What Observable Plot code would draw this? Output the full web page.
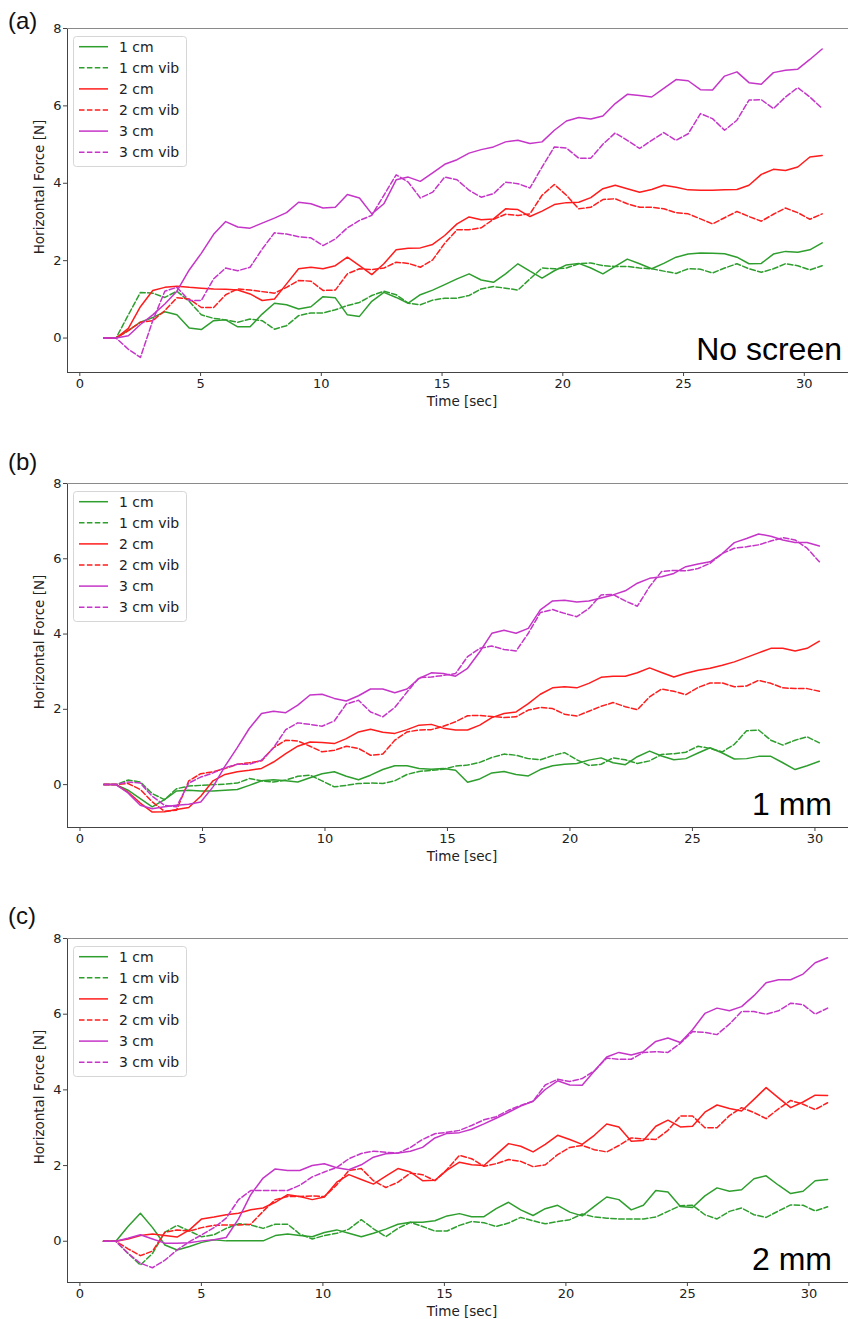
<!DOCTYPE html>
<html>
<head>
<meta charset="utf-8">
<script src="https://cdn.jsdelivr.net/npm/d3@7"></script>
<script src="https://cdn.jsdelivr.net/npm/@observablehq/plot@0.6"></script>
<style>
  html, body { margin: 0; padding: 0; background: #fff; }
  #wrap { position: relative; width: 848px; height: 1319px; overflow: hidden; background: #fff; }
  .panel { position: absolute; left: 0; width: 848px; height: 455px; }
  .panel svg text { font-size: 13px !important; font-family: 'DejaVu Sans', sans-serif !important; fill: #222; }
  #overlay { position: absolute; left: 0; top: 0; pointer-events: none; }
</style>
</head>
<body>
<div id="wrap"></div>
<script>
// ---------------- data ----------------
const timeA = [1.00,1.50,2.01,2.51,3.02,3.52,4.02,4.53,5.03,5.54,6.04,6.54,7.05,7.55,8.06,8.56,9.06,9.57,10.07,10.58,11.08,11.58,12.09,12.59,13.10,13.60,14.10,14.61,15.11,15.62,16.12,16.62,17.13,17.63,18.14,18.64,19.14,19.65,20.15,20.66,21.16,21.66,22.17,22.67,23.18,23.68,24.18,24.69,25.19,25.70,26.20,26.70,27.21,27.71,28.22,28.72,29.22,29.73,30.23,30.74];
const timeB = [0.97,1.47,1.96,2.46,2.95,3.45,3.94,4.44,4.93,5.43,5.92,6.42,6.91,7.41,7.90,8.40,8.89,9.39,9.88,10.38,10.87,11.37,11.86,12.36,12.85,13.35,13.84,14.34,14.83,15.33,15.82,16.32,16.81,17.31,17.80,18.30,18.79,19.29,19.78,20.28,20.77,21.27,21.76,22.26,22.75,23.25,23.74,24.24,24.73,25.23,25.72,26.22,26.71,27.21,27.70,28.20,28.69,29.19,29.68,30.18];
const timeC = [0.97,1.48,1.98,2.49,2.99,3.50,4.00,4.51,5.01,5.52,6.02,6.53,7.03,7.54,8.04,8.55,9.05,9.56,10.06,10.57,11.07,11.58,12.08,12.59,13.09,13.60,14.10,14.61,15.11,15.62,16.12,16.63,17.13,17.64,18.14,18.65,19.15,19.66,20.16,20.67,21.17,21.68,22.18,22.69,23.19,23.70,24.20,24.71,25.21,25.72,26.22,26.73,27.23,27.74,28.24,28.75,29.25,29.76,30.26,30.77];

const seriesNames = ["1 cm", "1 cm vib", "2 cm", "2 cm vib", "3 cm", "3 cm vib"];
const xTicks = [0, 5, 10, 15, 20, 25, 30];
const yTicks = [0, 2, 4, 6, 8];
const panelTags = ["(a)", "(b)", "(c)"];
const panelNotes = ["No screen", "1 mm", "2 mm"];
const xLabel = "Time [sec]";
const yLabel = "Horizontal Force [N]";

// (a) No screen
const a1cm    = [0,0,0.2,0.41,0.53,0.68,0.6,0.26,0.22,0.45,0.47,0.29,0.29,0.62,0.9,0.86,0.75,0.81,1.07,1.04,0.6,0.56,0.95,1.18,1.05,0.9,1.12,1.24,1.38,1.53,1.66,1.5,1.44,1.66,1.92,1.73,1.55,1.74,1.89,1.93,1.81,1.66,1.85,2.04,1.92,1.79,1.93,2.09,2.17,2.2,2.19,2.18,2.09,1.92,1.93,2.17,2.24,2.22,2.28,2.46];
const a1cmVib = [0,0,0.6,1.18,1.16,1.05,1.21,0.95,0.6,0.51,0.47,0.41,0.49,0.45,0.23,0.32,0.58,0.65,0.65,0.73,0.84,0.92,1.1,1.21,1.12,0.9,0.86,0.98,1.03,1.03,1.1,1.27,1.33,1.29,1.24,1.53,1.81,1.79,1.81,1.92,1.94,1.87,1.85,1.85,1.81,1.79,1.73,1.67,1.79,1.78,1.68,1.81,1.92,1.79,1.7,1.79,1.92,1.87,1.76,1.87];
const a2cm    = [0,0,0.25,0.81,1.23,1.31,1.34,1.31,1.29,1.27,1.26,1.24,1.14,0.97,1.01,1.4,1.79,1.83,1.79,1.87,2.09,1.87,1.64,1.92,2.28,2.32,2.33,2.42,2.65,2.95,3.13,3.06,3.08,3.34,3.32,3.14,3.28,3.45,3.5,3.51,3.63,3.86,3.95,3.86,3.77,3.84,3.95,3.9,3.83,3.82,3.82,3.83,3.84,3.95,4.23,4.36,4.33,4.42,4.68,4.72];
const a2cmVib = [0,0,0.19,0.41,0.45,0.71,1.04,1.01,0.79,0.79,1.12,1.27,1.24,1.2,1.16,1.31,1.49,1.47,1.23,1.24,1.66,1.79,1.77,1.81,1.96,1.93,1.83,2.02,2.45,2.8,2.8,2.85,3.07,3.2,3.17,3.21,3.69,3.97,3.69,3.34,3.38,3.58,3.6,3.47,3.38,3.38,3.34,3.24,3.21,3.08,2.95,3.11,3.27,3.14,3.02,3.2,3.36,3.24,3.07,3.21];
const a3cm    = [0,0,0.06,0.35,0.6,0.88,1.21,1.76,2.19,2.68,3.01,2.87,2.84,2.97,3.1,3.24,3.51,3.47,3.36,3.38,3.71,3.62,3.21,3.47,4.09,4.16,4.05,4.27,4.49,4.61,4.78,4.87,4.94,5.07,5.11,5.03,5.07,5.37,5.61,5.7,5.66,5.74,6.06,6.3,6.27,6.23,6.45,6.68,6.65,6.42,6.41,6.77,6.88,6.6,6.56,6.86,6.92,6.95,7.2,7.47];
const a3cmVib = [0,0,-0.29,-0.5,0.45,1.21,1.31,0.97,0.97,1.53,1.81,1.74,1.83,2.3,2.72,2.69,2.62,2.59,2.39,2.56,2.85,3.04,3.17,3.69,4.22,4.03,3.62,3.77,4.16,4.09,3.82,3.64,3.73,4.03,3.99,3.88,4.42,4.94,4.91,4.65,4.65,5.01,5.3,5.11,4.9,5.11,5.31,5.11,5.28,5.8,5.67,5.37,5.63,6.15,6.16,5.93,6.23,6.47,6.23,5.93];

// (b) 1 mm
const b1cm    = [0,0,-0.15,-0.37,-0.59,-0.4,-0.17,-0.15,-0.17,-0.17,-0.15,-0.13,-0.02,0.1,0.13,0.1,0.07,0.18,0.29,0.34,0.22,0.13,0.25,0.4,0.5,0.5,0.43,0.41,0.43,0.38,0.06,0.15,0.31,0.35,0.27,0.23,0.4,0.5,0.54,0.56,0.65,0.71,0.58,0.53,0.74,0.89,0.76,0.66,0.69,0.84,0.98,0.84,0.68,0.69,0.75,0.75,0.58,0.4,0.5,0.62];
const b1cmVib = [0,0,0.12,0.07,-0.24,-0.4,-0.11,-0.04,-0.02,0,0.01,0.04,0.16,0.1,0.07,0.12,0.22,0.25,0.1,-0.06,-0.02,0.03,0.04,0.03,0.1,0.27,0.35,0.38,0.41,0.49,0.52,0.59,0.72,0.81,0.78,0.69,0.66,0.77,0.85,0.66,0.51,0.54,0.71,0.66,0.56,0.63,0.8,0.82,0.86,1.02,0.96,0.87,1.07,1.43,1.45,1.18,1.05,1.18,1.27,1.11];
const b2cm    = [0,0,-0.2,-0.49,-0.73,-0.72,-0.66,-0.61,-0.31,0.1,0.27,0.34,0.38,0.43,0.6,0.82,1.02,1.13,1.12,1.09,1.22,1.4,1.47,1.39,1.36,1.46,1.58,1.6,1.5,1.45,1.45,1.58,1.78,1.89,1.93,2.15,2.4,2.57,2.6,2.57,2.69,2.85,2.88,2.88,2.97,3.1,2.98,2.86,2.96,3.04,3.09,3.17,3.26,3.38,3.5,3.62,3.62,3.55,3.62,3.81];
const b2cmVib = [0,0,0.03,-0.13,-0.46,-0.71,-0.68,0.1,0.29,0.34,0.43,0.54,0.58,0.63,0.98,1.18,1.16,1.02,0.87,0.91,1.02,0.96,0.78,0.81,1.18,1.4,1.45,1.46,1.55,1.67,1.83,1.84,1.81,1.78,1.8,1.98,2.05,2.02,1.87,1.82,1.95,2.08,2.18,2.07,1.99,2.33,2.54,2.48,2.39,2.58,2.7,2.7,2.6,2.62,2.77,2.69,2.57,2.55,2.55,2.48];
const b3cm    = [0,0,-0.22,-0.55,-0.64,-0.59,-0.55,-0.52,-0.46,-0.06,0.49,0.98,1.49,1.89,1.95,1.91,2.11,2.38,2.4,2.29,2.22,2.36,2.54,2.54,2.44,2.54,2.82,2.97,2.95,2.88,3.09,3.53,4.02,4.1,4.02,4.15,4.64,4.88,4.9,4.85,4.88,4.96,5.04,5.15,5.35,5.48,5.52,5.61,5.79,5.86,5.92,6.14,6.43,6.54,6.66,6.6,6.5,6.43,6.43,6.34];
const b3cmVib = [0,0,0.07,0.04,-0.31,-0.55,-0.59,0.04,0.2,0.31,0.45,0.54,0.54,0.65,0.98,1.46,1.64,1.6,1.55,1.69,2.14,2.24,1.93,1.8,2.05,2.46,2.84,2.86,2.9,2.95,3.4,3.62,3.68,3.59,3.55,4.02,4.57,4.65,4.55,4.46,4.68,5.04,5.05,4.88,4.74,5.26,5.66,5.69,5.68,5.74,5.88,6.14,6.28,6.32,6.37,6.47,6.56,6.5,6.28,5.92];

// (c) 2 mm
const c1cm    = [0,0,0.39,0.74,0.36,-0.1,-0.23,-0.14,-0.03,0.04,0.01,0.01,0.01,0.01,0.15,0.19,0.15,0.12,0.23,0.3,0.21,0.12,0.21,0.32,0.45,0.5,0.5,0.54,0.67,0.73,0.65,0.65,0.86,1.03,0.83,0.68,0.86,0.95,0.77,0.67,0.92,1.17,1.1,0.83,0.95,1.34,1.3,0.92,0.89,1.2,1.41,1.32,1.36,1.65,1.73,1.48,1.26,1.32,1.6,1.63];
const c1cmVib = [0,0,-0.32,-0.63,-0.32,0.24,0.42,0.27,0.12,0.17,0.34,0.46,0.43,0.34,0.45,0.45,0.19,0.06,0.15,0.21,0.32,0.57,0.33,0.12,0.34,0.5,0.39,0.27,0.27,0.42,0.52,0.49,0.39,0.48,0.63,0.54,0.46,0.52,0.57,0.72,0.64,0.61,0.59,0.59,0.59,0.64,0.79,0.94,0.95,0.7,0.59,0.79,0.88,0.7,0.63,0.8,0.96,0.95,0.8,0.91];
const c2cm    = [0,0,0.06,0.15,0.19,0.15,0.11,0.3,0.59,0.64,0.7,0.74,0.83,0.88,1.03,1.23,1.18,1.1,1.17,1.56,1.76,1.63,1.51,1.72,1.92,1.83,1.6,1.61,1.88,2.09,2.02,2.0,2.29,2.58,2.51,2.36,2.56,2.8,2.69,2.56,2.8,3.1,3.02,2.64,2.66,3.04,3.2,3.02,3.04,3.41,3.6,3.51,3.44,3.75,4.06,3.79,3.53,3.68,3.86,3.85];
const c2cmVib = [0,0,-0.2,-0.38,-0.26,0.24,0.3,0.27,0.36,0.42,0.43,0.43,0.45,0.79,1.1,1.18,1.18,1.2,1.18,1.49,1.87,1.92,1.6,1.42,1.56,1.8,1.76,1.6,1.9,2.27,2.18,1.98,2.05,2.16,2.11,1.97,2.02,2.29,2.48,2.53,2.42,2.36,2.53,2.73,2.7,2.69,2.93,3.31,3.31,3.0,3.0,3.32,3.53,3.4,3.24,3.5,3.72,3.62,3.48,3.66];
const c3cm    = [0,0,0.08,0.17,0.06,-0.05,-0.05,-0.04,0.01,0.04,0.1,0.59,1.23,1.67,1.91,1.87,1.87,2.0,2.05,1.94,1.89,2.02,2.22,2.31,2.33,2.38,2.48,2.73,2.85,2.87,2.96,3.1,3.25,3.41,3.57,3.7,4.01,4.24,4.13,4.12,4.5,4.87,4.99,4.92,5.01,5.28,5.37,5.25,5.59,6.02,6.16,6.09,6.2,6.49,6.83,6.91,6.91,7.06,7.36,7.49];
const c3cmVib = [0,0,-0.32,-0.58,-0.7,-0.5,-0.23,-0.01,0.17,0.36,0.61,1.1,1.34,1.34,1.34,1.34,1.48,1.7,1.83,1.95,2.18,2.32,2.38,2.35,2.33,2.48,2.69,2.84,2.88,2.93,3.06,3.21,3.29,3.46,3.59,3.7,4.13,4.28,4.22,4.3,4.5,4.84,4.81,4.81,4.99,5.01,4.99,5.23,5.54,5.52,5.46,5.74,6.07,6.07,6.0,6.09,6.29,6.25,6.0,6.16];

// ---------------- styles / layout ----------------
const seriesColors = ["#2e9e2e", "#2e9e2e", "#ff1c1c", "#ff1c1c", "#c535c8", "#c535c8"];
const seriesDashed = [false, true, false, true, false, true];

const panels = [
  {time: timeA, series: [a1cm, a1cmVib, a2cm, a2cmVib, a3cm, a3cmVib], yMin: -0.89, xDomain: [-0.51, 31.83], top: 0,   tagBase: 29},
  {time: timeB, series: [b1cm, b1cmVib, b2cm, b2cmVib, b3cm, b3cmVib], yMin: -1.14, xDomain: [-0.51, 31.37], top: 455, tagBase: 470},
  {time: timeC, series: [c1cm, c1cmVib, c2cm, c2cmVib, c3cm, c3cmVib], yMin: -1.09, xDomain: [-0.51, 31.63], top: 910, tagBase: 924}
];

const W = 848, H = 455, mTop = 28, mBottom = 83, mLeft = 67;
const wrap = document.getElementById("wrap");

panels.forEach((p, pi) => {
  const marks = [Plot.ruleY([8], {stroke: "#8a8a8a", strokeWidth: 1.2})];
  p.series.forEach((vals, k) => {
    const rows = vals.map((v, i) => ({t: p.time[i], v}));
    const opts = {x: "t", y: "v", stroke: seriesColors[k], strokeWidth: 1.5, strokeLinejoin: "round"};
    if (seriesDashed[k]) opts.strokeDasharray = "5.5,2.4";
    marks.push(Plot.line(rows, opts));
  });
  const chart = Plot.plot({
    width: W, height: H,
    marginTop: mTop, marginBottom: mBottom, marginLeft: mLeft, marginRight: 0,
    x: {domain: p.xDomain, ticks: xTicks, tickSize: 4, tickPadding: 2, label: null, line: true, tickFormat: d => String(d)},
    y: {domain: [p.yMin, 8], ticks: yTicks, tickSize: 4, tickPadding: 2, label: null, line: true, tickFormat: d => String(d)},
    style: {fontFamily: "'DejaVu Sans', sans-serif", fontSize: "13px", color: "#444", background: "white", overflow: "visible"},
    marks
  });
  const div = document.createElement("div");
  div.className = "panel";
  div.style.top = p.top + "px";
  div.appendChild(chart);
  wrap.appendChild(div);
});

// ---------------- overlay texts & legends ----------------
const svg = d3.create("svg").attr("id", "overlay").attr("width", W).attr("height", 1319);
panels.forEach((p, pi) => {
  const g = svg.append("g").attr("transform", `translate(0,${p.top})`);
  svg.append("text").attr("x", 8).attr("y", p.tagBase)
    .attr("font-family", "'Liberation Sans', Arial, sans-serif").attr("font-size", 24).attr("fill", "#111")
    .text(panelTags[pi]);
  g.append("text").attr("x", 462).attr("y", 406).attr("text-anchor", "middle")
    .attr("font-family", "'DejaVu Sans', sans-serif").attr("font-size", 13.5).attr("fill", "#222")
    .text(xLabel);
  g.append("text").attr("transform", "translate(44,187) rotate(-90)").attr("text-anchor", "middle")
    .attr("font-family", "'DejaVu Sans', sans-serif").attr("font-size", 13.5).attr("fill", "#222")
    .text(yLabel);
  g.append("text").attr("x", pi === 0 ? 842 : 832).attr("y", 360).attr("text-anchor", "end")
    .attr("font-family", "'Liberation Sans', Arial, sans-serif").attr("font-size", 32).attr("fill", "#000")
    .text(panelNotes[pi]);
  const lg = g.append("g");
  lg.append("rect").attr("x", 73.5).attr("y", 36.5).attr("width", 113).attr("height", 130).attr("rx", 3)
    .attr("fill", "white").attr("fill-opacity", 0.85).attr("stroke", "#d6d6d6");
  seriesNames.forEach((name, k) => {
    const cy = 46.7 + k * 21.1;
    const ln = lg.append("line").attr("x1", 79).attr("x2", 108).attr("y1", cy).attr("y2", cy)
      .attr("stroke", seriesColors[k]).attr("stroke-width", 1.5);
    if (seriesDashed[k]) ln.attr("stroke-dasharray", "5.5,2.4");
    lg.append("text").attr("x", 119).attr("y", cy).attr("dy", "0.36em")
      .attr("font-family", "'DejaVu Sans', sans-serif").attr("font-size", 14).attr("fill", "#222")
      .text(name);
  });
});
wrap.appendChild(svg.node());
</script>
</body>
</html>
